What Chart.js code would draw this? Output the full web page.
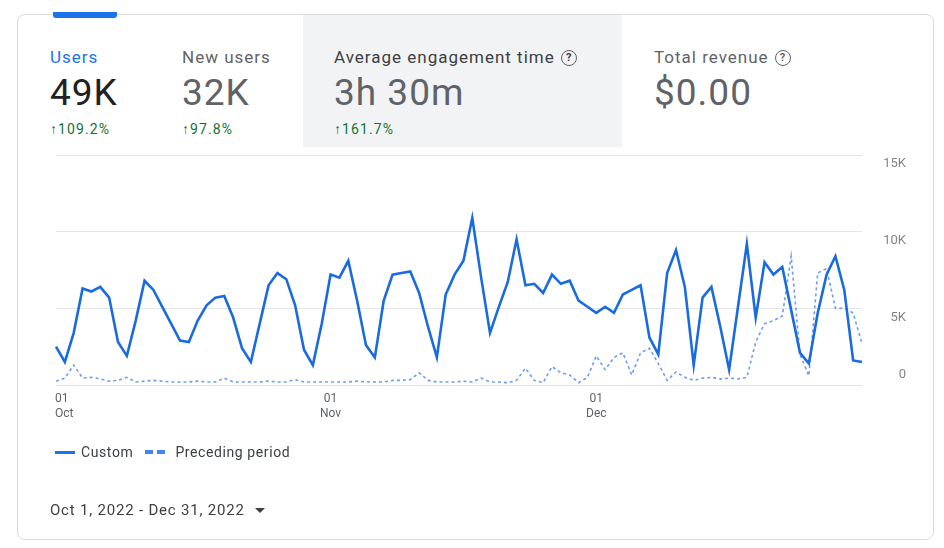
<!DOCTYPE html>
<html>
<head>
<meta charset="utf-8">
<script src="https://cdn.jsdelivr.net/npm/chart.js@4.4.0/dist/chart.umd.min.js"></script>
<style>
  html, body { margin: 0; padding: 0; background: #fff; }
  body { width: 944px; height: 548px; position: relative; overflow: hidden; font-family: Roboto, "Noto Sans", sans-serif; }
  .card { position: absolute; left: 17px; top: 14px; width: 917px; height: 526px; border: 1px solid #dadce0; border-radius: 8px; box-sizing: border-box; }
  .tabbar { position: absolute; left: 53px; top: 12px; width: 64px; height: 6px; background: #1a73e8; border-radius: 0 0 3px 3px; }
  .hilite { position: absolute; left: 303px; top: 15px; width: 319px; height: 132px; background: #f1f3f4; }
  .metric { position: absolute; top: 47px; }
  .metric .lbl { font-size: 17px; color: #5f6368; white-space: nowrap; letter-spacing: 1px; }
  .metric .val { font-size: 37px; color: #5f6368; margin-top: 4px; line-height: 44px; white-space: nowrap; letter-spacing: 1px; }
  .metric .chg { font-size: 14px; color: #137333; margin-top: 6px; white-space: nowrap; letter-spacing: 1.1px; }
  .q { display: inline-block; width: 14px; height: 14px; border: 1.6px solid #5f6368; border-radius: 50%; font-size: 11px; line-height: 14px; text-align: center; vertical-align: 2px; margin-left: 6px; font-weight: 700; letter-spacing: 0; }
  #chartCanvas { position: absolute; left: 0; top: 0; }
  .legend { position: absolute; left: 55px; top: 444px; font-size: 14px; color: #3c4043; display: flex; align-items: center; letter-spacing: 0.6px; }
  .sw { display: inline-block; width: 20px; height: 3px; background: #1a73e8; margin-right: 6px; }
  .swd { display: inline-block; width: 8px; height: 4px; background: #4285f4; margin-right: 4px; }
  .date { position: absolute; left: 50px; top: 501px; font-size: 15px; color: #3c4043; letter-spacing: 0.8px; }
  .caret { display: inline-block; width: 0; height: 0; border-left: 5px solid transparent; border-right: 5px solid transparent; border-top: 5px solid #3c4043; margin-left: 10px; vertical-align: 2px; }
</style>
</head>
<body>
<div class="card"></div>
<div class="hilite"></div>
<div class="tabbar"></div>

<div class="metric" style="left:50px">
  <div class="lbl" style="color:#1a73e8">Users</div>
  <div class="val" style="color:#202124">49K</div>
  <div class="chg">&#8593;109.2%</div>
</div>
<div class="metric" style="left:182px">
  <div class="lbl">New users</div>
  <div class="val">32K</div>
  <div class="chg">&#8593;97.8%</div>
</div>
<div class="metric" style="left:334px">
  <div class="lbl" style="color:#3c4043">Average engagement time<span class="q">?</span></div>
  <div class="val">3h 30m</div>
  <div class="chg">&#8593;161.7%</div>
</div>
<div class="metric" style="left:654px">
  <div class="lbl">Total revenue<span class="q">?</span></div>
  <div class="val">$0.00</div>
</div>

<canvas id="chartCanvas" width="944" height="548"></canvas>

<div class="legend">
  <span class="sw"></span><span>Custom</span>
  <span style="width:12px;display:inline-block"></span>
  <span class="swd"></span><span class="swd" style="margin-right:10px"></span><span>Preceding period</span>
</div>
<div class="date">Oct 1, 2022 - Dec 31, 2022<span class="caret"></span></div>

<script>
// daily users, Oct 1 - Dec 31 2022
const customUsers = [
  2500, 1500, 3400, 6300, 6100, 6400, 5700, 2800, 1900, 4200,
  6800, 6200, 5100, 4000, 2900, 2800, 4200, 5200, 5700, 5800,
  4400, 2400, 1500, 4000, 6500, 7300, 6900, 5200, 2300, 1300,
  4000, 7200, 7000, 8100, 5500, 2600, 1800, 5500, 7200, 7300,
  7400, 6000, 3800, 1800, 5900, 7200, 8100, 10900, 7000, 3400,
  5100, 6700, 9500, 6500, 6600, 6000, 7200, 6600, 6800, 5500,
  5100, 4700, 5100, 4700, 5900, 6200, 6500, 3100, 2000, 7300,
  8800, 6400, 1300, 5700, 6400, 3800, 1000, 5100, 9200, 4400,
  8000, 7200, 7700, 4900, 2100, 1400, 4700, 7200, 8400, 6200,
  1600, 1500
];
const precedingUsers = [
  250, 450, 1300, 450, 500, 400, 250, 300, 500, 200,
  250, 300, 250, 200, 200, 200, 250, 200, 200, 450,
  200, 200, 200, 200, 250, 200, 200, 350, 200, 200,
  200, 200, 200, 200, 250, 200, 200, 200, 300, 300,
  350, 800, 300, 200, 200, 200, 250, 200, 450, 200,
  200, 150, 300, 1100, 300, 150, 1200, 800, 650, 150,
  500, 1900, 1000, 1800, 2100, 650, 2100, 2400, 1400, 300,
  850, 500, 300, 450, 500, 400, 450, 400, 500, 2800,
  4000, 4200, 4500, 8400, 2000, 600, 7300, 7600, 5000, 5000,
  4700, 2700
];
const monthNames = ["Oct", "Nov", "Dec"];
const monthDays = [31, 30, 31];
const yTicks = [0, 5000, 10000, 15000];
const yTickLabels = ["0", "5K", "10K", "15K"];

const days = [];
monthNames.forEach((m, mi) => {
  for (let d = 1; d <= monthDays[mi]; d++) days.push(m + " " + d);
});

// axis labels drawn from the scales
const axisLabels = {
  id: "axisLabels",
  afterDraw(chart) {
    const ctx = chart.ctx;
    const x = chart.scales.x, y = chart.scales.y;
    ctx.save();
    ctx.font = "13px Roboto, sans-serif";
    ctx.fillStyle = "#80868b";
    ctx.textAlign = "right";
    ctx.textBaseline = "middle";
    yTicks.forEach((v, i) => {
      const py = y.getPixelForValue(v);
      ctx.fillText(yTickLabels[i], 906, v === 0 ? py - 10 : py + 9);
    });
    ctx.font = "12px Roboto, sans-serif";
    ctx.fillStyle = "#5f6368";
    days.forEach((d, i) => {
      const parts = d.split(" ");
      if (parts[1] !== "1") return;
      const px = x.getPixelForValue(i);
      ctx.textAlign = i === 0 ? "left" : "center";
      const ox = i === 0 ? px - 1 : px;
      ctx.fillText("01", ox, 399);
      ctx.fillText(parts[0], ox, 414);
    });
    ctx.restore();
  }
};

new Chart(document.getElementById("chartCanvas"), {
  type: "line",
  data: {
    labels: days,
    datasets: [
      {
        label: "Custom",
        data: customUsers,
        borderColor: "#1a6be0",
        borderWidth: 2.6,
        pointRadius: 0,
        tension: 0,
        order: 1,
      },
      {
        label: "Preceding period",
        data: precedingUsers,
        borderColor: "#6c9ef0",
        borderWidth: 1.6,
        borderDash: [3, 3],
        pointRadius: 0,
        tension: 0,
        order: 2,
      },
    ],
  },
  options: {
    responsive: false,
    animation: false,
    layout: { padding: { left: 56, top: 155, right: 82, bottom: 163 } },
    plugins: { legend: { display: false }, tooltip: { enabled: false } },
    scales: {
      x: { display: false },
      y: {
        position: "right",
        min: 0,
        max: 15000,
        ticks: { display: false, stepSize: 5000 },
        grid: { color: "#e3e5e8", lineWidth: 1, drawTicks: false },
        border: { display: false },
      },
    },
  },
  plugins: [axisLabels],
});
</script>
</body>
</html>
